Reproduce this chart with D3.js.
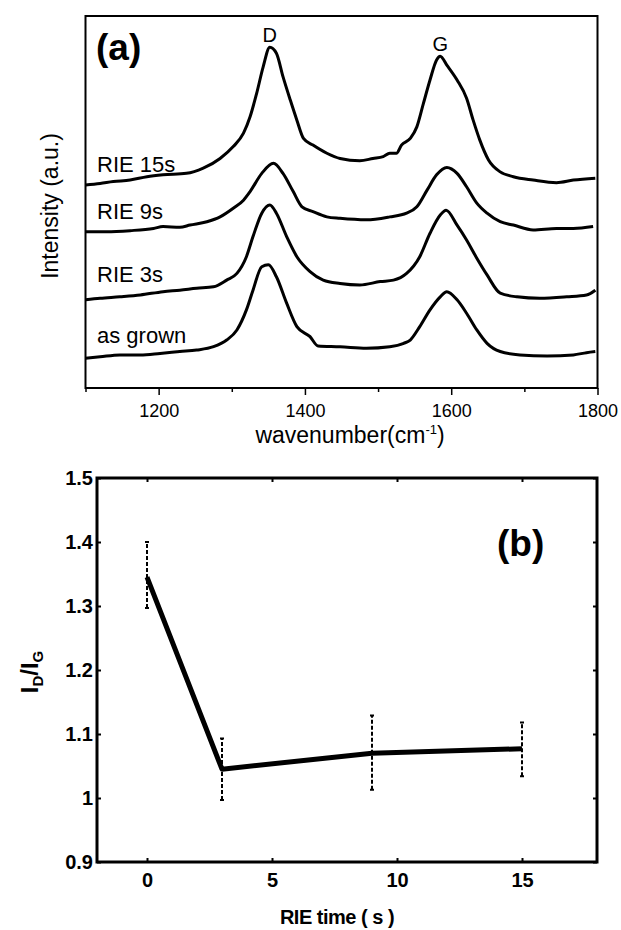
<!DOCTYPE html>
<html>
<head>
<meta charset="utf-8">
<script src="https://cdn.jsdelivr.net/npm/d3@7"></script>
<style>
  body { margin: 0; background: #fff; }
  svg { display: block; font-family: "Liberation Sans", Arial, sans-serif; }
</style>
</head>
<body>
<div id="chart"></div>
<script>
// Panel (a): Raman spectra, [wavenumber cm-1, intensity a.u. (stacked offset)]
const spec15s = [[1100,5.46],[1120,5.50],[1138,5.55],[1161,5.59],[1184,5.68],[1206,5.73],[1238,5.77],[1261,5.91],
  [1284,6.17],[1302,6.49],[1316,6.85],[1325,7.29],[1334,7.92],[1343,8.64],[1352,9.16],[1361,9.00],[1370,8.37],
  [1380,7.74],[1389,7.20],[1398,6.71],[1411,6.53],[1430,6.31],[1448,6.17],[1475,6.11],[1493,6.17],[1507,6.22],
  [1516,6.31],[1525,6.31],[1532,6.53],[1544,6.71],[1553,7.02],[1562,7.65],[1571,8.28],[1580,8.82],[1585,8.92],
  [1594,8.68],[1608,8.28],[1621,7.79],[1630,7.20],[1639,6.67],[1651,6.13],[1667,5.81],[1685,5.68],[1712,5.59],
  [1744,5.52],[1767,5.59],[1797,5.64]];
const spec9s = [[1100,4.20],[1129,4.20],[1161,4.23],[1193,4.29],[1206,4.34],[1229,4.32],[1243,4.38],[1266,4.47],
  [1284,4.60],[1302,4.83],[1316,5.05],[1325,5.28],[1341,5.77],[1357,6.04],[1370,5.77],[1384,5.28],[1396,4.87],
  [1411,4.74],[1430,4.60],[1448,4.56],[1484,4.52],[1516,4.60],[1539,4.70],[1553,4.87],[1567,5.32],[1580,5.73],
  [1594,5.93],[1608,5.77],[1621,5.41],[1635,4.97],[1649,4.70],[1667,4.47],[1685,4.38],[1712,4.25],[1744,4.29],
  [1767,4.29],[1794,4.34]];
const spec3s = [[1100,2.37],[1120,2.41],[1147,2.45],[1175,2.50],[1206,2.59],[1229,2.63],[1252,2.68],[1275,2.72],
  [1293,2.90],[1307,3.08],[1320,3.53],[1329,4.07],[1341,4.70],[1352,4.92],[1361,4.70],[1375,4.07],[1389,3.53],
  [1407,3.13],[1425,2.90],[1448,2.81],[1475,2.77],[1503,2.86],[1521,2.90],[1539,3.08],[1557,3.53],[1571,4.16],
  [1585,4.65],[1593,4.78],[1608,4.38],[1621,3.98],[1635,3.49],[1649,3.04],[1667,2.55],[1690,2.45],[1721,2.41],
  [1758,2.45],[1785,2.50],[1797,2.63]];
const specGrown = [[1100,0.80],[1120,0.84],[1147,0.89],[1175,0.89],[1202,0.93],[1229,0.98],[1252,1.02],[1275,1.11],
  [1293,1.29],[1307,1.56],[1320,2.10],[1329,2.63],[1341,3.26],[1350,3.31],[1361,2.99],[1375,2.28],[1389,1.65],
  [1407,1.38],[1418,1.13],[1448,1.11],[1484,1.07],[1516,1.11],[1535,1.20],[1544,1.29],[1557,1.65],[1571,2.10],
  [1585,2.45],[1594,2.59],[1608,2.37],[1621,2.01],[1635,1.56],[1649,1.20],[1667,0.98],[1694,0.89],[1731,0.86],
  [1767,0.89],[1785,0.95],[1797,0.98]];
const traceNames = ["RIE 15s", "RIE 9s", "RIE 3s", "as grown"];
const wnTicks = [1200, 1400, 1600, 1800];
const wnMinorTicks = [1100, 1300, 1500, 1700];

// Panel (b): ID/IG ratio vs RIE time
const rieTime = [0, 3, 9, 15];
const ratioDG = [1.345, 1.045, 1.070, 1.077];
const errLow = [1.297, 0.997, 1.013, 1.034];
const errHigh = [1.400, 1.093, 1.129, 1.118];
const timeTicks = [0, 5, 10, 15];
const ratioTicks = [0.9, 1.0, 1.1, 1.2, 1.3, 1.4, 1.5];

const svg = d3.select("#chart").append("svg")
  .attr("width", 621)
  .attr("height", 930);

// ---------- panel (a) ----------
const xa = d3.scaleLinear().domain([1100, 1800]).range([85.5, 597.5]);
const ya = d3.scaleLinear().domain([0, 10]).range([388, 16]);

const gA = svg.append("g");

// minor ticks
gA.append("g")
  .attr("transform", "translate(0,388)")
  .call(d3.axisBottom(xa).tickValues(wnMinorTicks).tickSize(4).tickFormat(""))
  .call(g => g.select(".domain").remove())
  .selectAll("line").attr("stroke-width", 1.5);

gA.append("g")
  .attr("transform", "translate(0,388)")
  .call(d3.axisBottom(xa).tickValues(wnTicks).tickSize(7).tickPadding(9).tickFormat(d3.format("d")))
  .call(g => g.select(".domain").remove())
  .call(g => g.selectAll("line").attr("stroke-width", 1.5))
  .selectAll("text")
  .attr("font-size", 18)
  .attr("font-family", "Liberation Sans, Arial, sans-serif")
  .attr("fill", "#000");

gA.append("rect")
  .attr("x", xa(1100)).attr("y", ya(10))
  .attr("width", xa(1800) - xa(1100))
  .attr("height", ya(0) - ya(10))
  .attr("fill", "none")
  .attr("stroke", "#000")
  .attr("stroke-width", 2);

const specLine = d3.line()
  .x(d => xa(d[0]))
  .y(d => ya(d[1]))
  .curve(d3.curveMonotoneX);

const spectra = [spec15s, spec9s, spec3s, specGrown];
gA.selectAll("path.spec")
  .data(spectra)
  .enter()
  .append("path")
  .attr("class", "spec")
  .attr("d", specLine)
  .attr("fill", "none")
  .attr("stroke", "#000")
  .attr("stroke-width", 3)
  .attr("stroke-linejoin", "round");

// trace labels
const labelY = [5.8, 4.55, 2.85, 1.21];
gA.selectAll("text.trace")
  .data(traceNames)
  .enter()
  .append("text")
  .attr("class", "trace")
  .attr("x", 97)
  .attr("y", (d, i) => ya(labelY[i]))
  .attr("font-size", 22)
  .text(d => d);

gA.append("text").attr("x", xa(1352)).attr("y", 42)
  .attr("text-anchor", "middle").attr("font-size", 20).text("D");
gA.append("text").attr("x", xa(1585)).attr("y", 51)
  .attr("text-anchor", "middle").attr("font-size", 20).text("G");

gA.append("text").attr("x", 96).attr("y", 60)
  .attr("font-size", 37).attr("font-weight", "bold").text("(a)");

// axis titles
const wnTitle = svg.append("text")
  .attr("x", 350).attr("y", 443)
  .attr("text-anchor", "middle")
  .attr("font-size", 23)
  .text("wavenumber(cm");
wnTitle.append("tspan").attr("font-size", 13).attr("dy", -9).text("-1");
wnTitle.append("tspan").attr("dy", 9).text(")");

svg.append("text")
  .attr("transform", "translate(58,206) rotate(-90)")
  .attr("text-anchor", "middle")
  .attr("font-size", 23)
  .text("Intensity (a.u.)");

// ---------- panel (b) ----------
const xb = d3.scaleLinear().domain([-2, 18]).range([97, 597]);
const yb = d3.scaleLinear().domain([0.9, 1.5]).range([862, 478]);
const gB = svg.append("g");

const styleAxis = g => {
  g.select(".domain").remove();
  g.selectAll("line").attr("stroke-width", 2);
  g.selectAll("text")
    .attr("font-size", 20)
    .attr("font-weight", "bold")
    .attr("font-family", "Liberation Sans, Arial, sans-serif")
    .attr("fill", "#000");
};

gB.append("g")
  .attr("transform", "translate(0,862)")
  .call(d3.axisBottom(xb).tickValues(timeTicks).tickSizeInner(-4).tickSizeOuter(0).tickPadding(11))
  .call(styleAxis);
gB.append("g")
  .attr("transform", "translate(0,478)")
  .call(d3.axisTop(xb).tickValues(timeTicks).tickSizeInner(-4).tickSizeOuter(0).tickFormat(""))
  .call(styleAxis);
gB.append("g")
  .attr("transform", "translate(97,0)")
  .call(d3.axisLeft(yb).tickValues(ratioTicks).tickSizeInner(-4).tickSizeOuter(0).tickPadding(4).tickFormat(d3.format("~g")))
  .call(styleAxis);
gB.append("g")
  .attr("transform", "translate(597,0)")
  .call(d3.axisRight(yb).tickValues(ratioTicks).tickSizeInner(-4).tickSizeOuter(0).tickFormat(""))
  .call(styleAxis);

gB.append("rect")
  .attr("x", xb(-2)).attr("y", yb(1.5))
  .attr("width", xb(18) - xb(-2))
  .attr("height", yb(0.9) - yb(1.5))
  .attr("fill", "none")
  .attr("stroke", "#000")
  .attr("stroke-width", 3);

const pts = rieTime.map((t, i) => ({ t, v: ratioDG[i], lo: errLow[i], hi: errHigh[i] }));

// error bars (dashed)
gB.selectAll("line.err")
  .data(pts)
  .enter()
  .append("line")
  .attr("class", "err")
  .attr("x1", d => xb(d.t)).attr("x2", d => xb(d.t))
  .attr("y1", d => yb(d.lo)).attr("y2", d => yb(d.hi))
  .attr("stroke", "#000")
  .attr("stroke-width", 2)
  .attr("stroke-dasharray", "4,2");
gB.selectAll("path.cap")
  .data(pts)
  .enter()
  .append("path")
  .attr("class", "cap")
  .attr("d", d => `M${xb(d.t) - 2},${yb(d.lo)}H${xb(d.t) + 2}M${xb(d.t) - 2},${yb(d.hi)}H${xb(d.t) + 2}`)
  .attr("stroke", "#000")
  .attr("stroke-width", 2);

gB.append("path")
  .datum(pts)
  .attr("d", d3.line().x(d => xb(d.t)).y(d => yb(d.v)))
  .attr("fill", "none")
  .attr("stroke", "#000")
  .attr("stroke-width", 5)
  .attr("stroke-linejoin", "round");

gB.append("text").attr("x", 497).attr("y", 556)
  .attr("font-size", 37).attr("font-weight", "bold").text("(b)");

svg.append("text")
  .attr("x", 337).attr("y", 924)
  .attr("text-anchor", "middle")
  .attr("font-size", 20)
  .attr("font-weight", "bold")
  .attr("letter-spacing", -0.5)
  .text("RIE time ( s )");

const yTitle = svg.append("text")
  .attr("transform", "translate(38,672) rotate(-90)")
  .attr("text-anchor", "middle")
  .attr("font-size", 24)
  .attr("font-weight", "bold");
yTitle.append("tspan").text("I");
yTitle.append("tspan").attr("font-size", 15).attr("dy", 5).text("D");
yTitle.append("tspan").attr("dy", -5).text("/I");
yTitle.append("tspan").attr("font-size", 15).attr("dy", 5).text("G");
</script>
</body>
</html>
